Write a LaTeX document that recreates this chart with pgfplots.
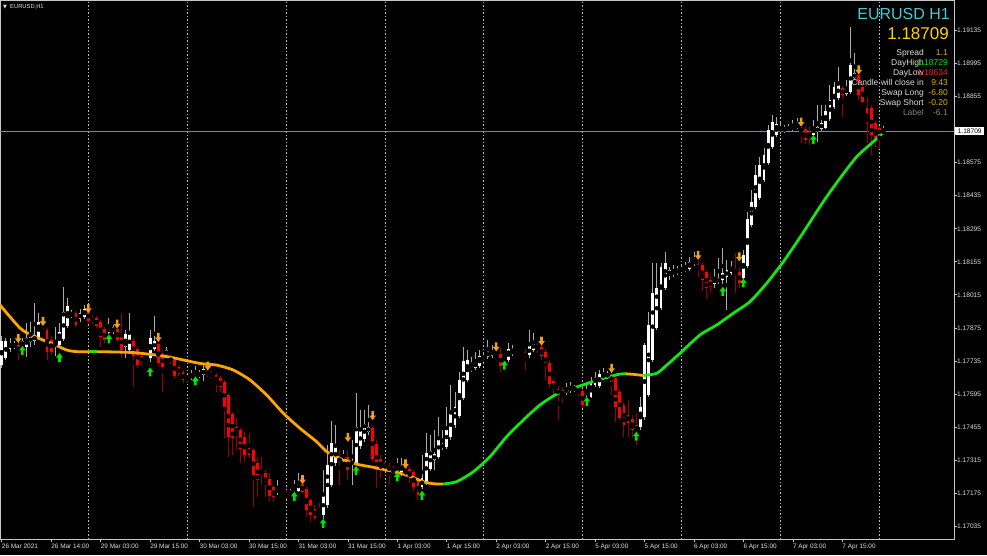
\documentclass[border=0pt]{standalone}
\usepackage{fontspec}
\setmainfont{Liberation Sans}
\newfontfamily\dejavu{DejaVu Sans}
\usepackage{pgfplots}
\usepackage{pgfplotstable}
\pgfplotsset{compat=1.18}

\definecolor{bullwick}{RGB}{170,170,170}
\definecolor{bearwick}{RGB}{150,0,0}
\definecolor{bearbody}{RGB}{255,0,0}
\definecolor{maorange}{RGB}{255,165,0}
\definecolor{magreen}{RGB}{20,230,20}
\definecolor{arrorange}{RGB}{240,160,20}
\definecolor{arrgreen}{RGB}{0,230,0}
\definecolor{axiscol}{RGB}{200,200,200}
\definecolor{sepcol}{RGB}{190,190,190}
\definecolor{pricecol}{RGB}{119,136,153}
\definecolor{labcol}{RGB}{225,225,225}
\definecolor{titlecyan}{RGB}{72,200,210}
\definecolor{pricegold}{RGB}{255,210,0}
\definecolor{valgold}{RGB}{215,180,20}
\definecolor{valdim}{RGB}{170,140,20}
\definecolor{infogray}{RGB}{128,128,128}
\definecolor{infolab}{RGB}{220,220,220}
\definecolor{valgreen}{RGB}{0,230,0}
\definecolor{valred}{RGB}{255,30,30}

% arrow marks
\pgfdeclareplotmark{uparr}{%
  \pgfpathmoveto{\pgfqpoint{-1.3pt}{-4.5pt}}%
  \pgfpathlineto{\pgfqpoint{1.3pt}{-4.5pt}}%
  \pgfpathlineto{\pgfqpoint{1.3pt}{0pt}}%
  \pgfpathlineto{\pgfqpoint{3.3pt}{0pt}}%
  \pgfpathlineto{\pgfqpoint{0pt}{4.5pt}}%
  \pgfpathlineto{\pgfqpoint{-3.3pt}{0pt}}%
  \pgfpathlineto{\pgfqpoint{-1.3pt}{0pt}}%
  \pgfpathclose
  \pgfusepathqfill}
\pgfdeclareplotmark{dnarr}{%
  \pgfpathmoveto{\pgfqpoint{-1.3pt}{4.5pt}}%
  \pgfpathlineto{\pgfqpoint{1.3pt}{4.5pt}}%
  \pgfpathlineto{\pgfqpoint{1.3pt}{0pt}}%
  \pgfpathlineto{\pgfqpoint{3.3pt}{0pt}}%
  \pgfpathlineto{\pgfqpoint{0pt}{-4.5pt}}%
  \pgfpathlineto{\pgfqpoint{-3.3pt}{0pt}}%
  \pgfpathlineto{\pgfqpoint{-1.3pt}{0pt}}%
  \pgfpathclose
  \pgfusepathqfill}

% bullish candles: bar, open, high, low, close
\pgfplotstableread{
j o h l c
3 1.17717 1.17840 1.17705 1.17819
4 1.17747 1.17832 1.17739 1.17819
5 1.17785 1.17832 1.17773 1.17811
6 1.17794 1.17819 1.17785 1.17806
8 1.17798 1.17832 1.17781 1.17819
9 1.17794 1.17895 1.17751 1.17832
10 1.17815 1.17900 1.17794 1.17836
11 1.17819 1.17980 1.17802 1.17845
12 1.17836 1.17938 1.17823 1.17900
16 1.17798 1.17878 1.17756 1.17811
17 1.17802 1.17895 1.17790 1.17857
18 1.17828 1.18048 1.17819 1.17942
19 1.17883 1.18001 1.17874 1.17967
20 1.17925 1.17951 1.17917 1.17938
22 1.17912 1.17955 1.17900 1.17938
23 1.17921 1.17972 1.17912 1.17955
29 1.17853 1.17917 1.17849 1.17878
30 1.17857 1.17887 1.17849 1.17878
33 1.17794 1.17866 1.17747 1.17849
34 1.17781 1.17938 1.17773 1.17853
38 1.17743 1.17751 1.17739 1.17747
39 1.17747 1.17866 1.17730 1.17832
40 1.17785 1.17925 1.17777 1.17819
43 1.17760 1.17794 1.17747 1.17781
49 1.17667 1.17696 1.17654 1.17675
50 1.17667 1.17713 1.17662 1.17684
51 1.17671 1.17696 1.17662 1.17684
52 1.17675 1.17726 1.17650 1.17700
70 1.17179 1.17230 1.17166 1.17192
73 1.17171 1.17192 1.17166 1.17175
74 1.17183 1.17230 1.17179 1.17200
75 1.17183 1.17260 1.17179 1.17226
81 1.17082 1.17272 1.17065 1.17166
82 1.17124 1.17378 1.17111 1.17294
83 1.17209 1.17480 1.17200 1.17387
84 1.17302 1.17463 1.17289 1.17378
86 1.17328 1.17357 1.17306 1.17332
88 1.17323 1.17400 1.17209 1.17336
89 1.17302 1.17599 1.17294 1.17455
90 1.17374 1.17527 1.17361 1.17438
91 1.17404 1.17527 1.17391 1.17467
92 1.17434 1.17548 1.17421 1.17455
99 1.17268 1.17323 1.17264 1.17289
100 1.17264 1.17323 1.17247 1.17294
105 1.17200 1.17336 1.17192 1.17239
106 1.17217 1.17429 1.17209 1.17344
107 1.17277 1.17421 1.17268 1.17353
108 1.17315 1.17442 1.17272 1.17340
109 1.17328 1.17497 1.17319 1.17408
110 1.17366 1.17442 1.17357 1.17383
111 1.17370 1.17539 1.17361 1.17455
112 1.17412 1.17633 1.17400 1.17518
113 1.17463 1.17603 1.17450 1.17539
114 1.17501 1.17688 1.17493 1.17654
115 1.17578 1.17794 1.17569 1.17734
116 1.17654 1.17781 1.17645 1.17739
117 1.17696 1.17751 1.17688 1.17713
118 1.17705 1.17773 1.17696 1.17730
119 1.17713 1.17781 1.17705 1.17756
120 1.17734 1.17773 1.17726 1.17751
121 1.17751 1.17823 1.17743 1.17777
122 1.17756 1.17802 1.17747 1.17781
125 1.17739 1.17751 1.17730 1.17743
126 1.17739 1.17811 1.17730 1.17785
127 1.17764 1.17802 1.17756 1.17781
128 1.17773 1.17785 1.17764 1.17781
131 1.17760 1.17866 1.17747 1.17798
132 1.17781 1.17853 1.17773 1.17811
140 1.17599 1.17641 1.17590 1.17616
141 1.17607 1.17645 1.17599 1.17628
142 1.17611 1.17633 1.17603 1.17624
145 1.17590 1.17633 1.17582 1.17607
146 1.17582 1.17667 1.17578 1.17641
147 1.17633 1.17688 1.17624 1.17667
148 1.17628 1.17696 1.17620 1.17679
149 1.17662 1.17705 1.17654 1.17679
150 1.17667 1.17692 1.17658 1.17684
158 1.17455 1.17582 1.17442 1.17539
159 1.17497 1.17811 1.17484 1.17802
160 1.17590 1.17942 1.17582 1.17887
161 1.17739 1.18150 1.17730 1.18023
162 1.17874 1.18150 1.17866 1.18044
163 1.17959 1.18150 1.17951 1.18133
164 1.18044 1.18196 1.18035 1.18150
165 1.18099 1.18133 1.18078 1.18120
166 1.18107 1.18141 1.18090 1.18116
167 1.18107 1.18137 1.18099 1.18124
168 1.18116 1.18141 1.18107 1.18124
169 1.18116 1.18154 1.18112 1.18133
170 1.18124 1.18175 1.18116 1.18154
171 1.18146 1.18196 1.18137 1.18162
176 1.18061 1.18124 1.18044 1.18086
177 1.18069 1.18171 1.18061 1.18086
178 1.18078 1.18213 1.18061 1.18107
179 1.18090 1.18162 1.17951 1.18120
180 1.18107 1.18158 1.18099 1.18137
183 1.18086 1.18205 1.18078 1.18184
184 1.18137 1.18366 1.18129 1.18336
185 1.18311 1.18459 1.18302 1.18408
186 1.18387 1.18565 1.18379 1.18523
187 1.18425 1.18599 1.18417 1.18565
188 1.18502 1.18637 1.18493 1.18608
189 1.18574 1.18735 1.18565 1.18713
190 1.18641 1.18777 1.18633 1.18747
191 1.18692 1.18769 1.18684 1.18739
192 1.18705 1.18747 1.18696 1.18726
193 1.18709 1.18735 1.18701 1.18722
194 1.18713 1.18739 1.18705 1.18726
195 1.18718 1.18756 1.18709 1.18730
196 1.18726 1.18764 1.18718 1.18735
200 1.18692 1.18756 1.18684 1.18726
201 1.18705 1.18819 1.18663 1.18726
202 1.18718 1.18819 1.18709 1.18743
203 1.18726 1.18819 1.18718 1.18798
204 1.18760 1.18904 1.18752 1.18841
205 1.18811 1.18917 1.18802 1.18896
206 1.18849 1.18981 1.18841 1.18913
208 1.18866 1.18925 1.18858 1.18891
209 1.18875 1.19150 1.18866 1.18989
210 1.18934 1.19040 1.18925 1.18955
217 1.18701 1.18730 1.18697 1.18709
}\bulltab

% bearish candles
\pgfplotstableread{
j o h l c
7 1.17802 1.17815 1.17739 1.17773
13 1.17866 1.17874 1.17849 1.17857
14 1.17866 1.17874 1.17739 1.17773
15 1.17823 1.17840 1.17760 1.17773
21 1.17938 1.17946 1.17878 1.17887
24 1.17951 1.17955 1.17895 1.17904
25 1.17921 1.17929 1.17891 1.17904
26 1.17917 1.17925 1.17874 1.17883
27 1.17900 1.17908 1.17794 1.17836
28 1.17870 1.17878 1.17811 1.17823
31 1.17870 1.17883 1.17815 1.17823
32 1.17849 1.17938 1.17751 1.17781
35 1.17819 1.17832 1.17624 1.17756
36 1.17785 1.17798 1.17705 1.17717
37 1.17756 1.17768 1.17713 1.17730
41 1.17806 1.17811 1.17713 1.17726
42 1.17764 1.17781 1.17603 1.17709
44 1.17751 1.17760 1.17722 1.17730
45 1.17739 1.17747 1.17658 1.17671
46 1.17709 1.17717 1.17671 1.17679
47 1.17688 1.17696 1.17641 1.17654
48 1.17671 1.17679 1.17645 1.17654
53 1.17696 1.17700 1.17667 1.17679
54 1.17684 1.17692 1.17658 1.17667
55 1.17675 1.17684 1.17603 1.17645
56 1.17662 1.17671 1.17603 1.17624
57 1.17645 1.17654 1.17408 1.17535
58 1.17590 1.17599 1.17328 1.17412
59 1.17510 1.17518 1.17336 1.17408
60 1.17455 1.17497 1.17357 1.17429
61 1.17442 1.17450 1.17302 1.17361
62 1.17412 1.17434 1.17306 1.17336
63 1.17370 1.17429 1.17323 1.17336
64 1.17357 1.17366 1.17116 1.17243
65 1.17302 1.17328 1.17158 1.17230
66 1.17264 1.17328 1.17209 1.17251
67 1.17260 1.17272 1.17158 1.17205
68 1.17234 1.17260 1.17137 1.17162
69 1.17200 1.17209 1.17137 1.17158
71 1.17183 1.17192 1.17171 1.17175
72 1.17179 1.17188 1.17150 1.17158
76 1.17213 1.17215 1.17175 1.17179
77 1.17192 1.17200 1.17073 1.17103
78 1.17145 1.17154 1.17052 1.17082
79 1.17107 1.17124 1.17060 1.17069
80 1.17090 1.17133 1.17077 1.17082
85 1.17328 1.17357 1.17209 1.17306
87 1.17328 1.17357 1.17230 1.17272
93 1.17450 1.17463 1.17306 1.17319
94 1.17383 1.17400 1.17196 1.17272
95 1.17319 1.17336 1.17239 1.17281
96 1.17294 1.17306 1.17272 1.17285
97 1.17289 1.17302 1.17209 1.17268
98 1.17277 1.17289 1.17255 1.17260
101 1.17285 1.17287 1.17239 1.17260
102 1.17277 1.17289 1.17217 1.17243
103 1.17264 1.17272 1.17183 1.17200
104 1.17226 1.17234 1.17145 1.17166
123 1.17768 1.17773 1.17751 1.17760
124 1.17764 1.17790 1.17688 1.17713
129 1.17773 1.17781 1.17764 1.17768
130 1.17773 1.17785 1.17696 1.17751
133 1.17798 1.17811 1.17768 1.17785
134 1.17794 1.17802 1.17739 1.17756
135 1.17773 1.17785 1.17654 1.17709
136 1.17726 1.17739 1.17620 1.17637
137 1.17650 1.17658 1.17582 1.17611
138 1.17616 1.17628 1.17484 1.17590
139 1.17611 1.17624 1.17556 1.17594
143 1.17616 1.17624 1.17586 1.17599
144 1.17607 1.17616 1.17535 1.17548
151 1.17679 1.17688 1.17590 1.17645
152 1.17662 1.17671 1.17476 1.17539
153 1.17603 1.17616 1.17484 1.17493
154 1.17548 1.17556 1.17412 1.17463
155 1.17506 1.17569 1.17412 1.17472
156 1.17489 1.17506 1.17408 1.17442
157 1.17463 1.17514 1.17378 1.17442
172 1.18146 1.18162 1.18090 1.18124
173 1.18141 1.18154 1.18031 1.18078
174 1.18112 1.18120 1.17997 1.18044
175 1.18078 1.18095 1.18023 1.18048
181 1.18124 1.18192 1.18023 1.18107
182 1.18112 1.18129 1.18044 1.18065
197 1.18722 1.18726 1.18658 1.18705
198 1.18718 1.18726 1.18654 1.18671
199 1.18696 1.18726 1.18650 1.18684
207 1.18891 1.18900 1.18769 1.18862
211 1.18947 1.18951 1.18841 1.18862
212 1.18896 1.18908 1.18828 1.18832
213 1.18807 1.18853 1.18658 1.18743
214 1.18807 1.18819 1.18608 1.18692
215 1.18743 1.18756 1.18641 1.18680
216 1.18722 1.18730 1.18633 1.18692
}\beartab

% signal arrows
\pgfplotstableread{
j p
7 1.17830
13 1.17902
24 1.17957
31 1.17891
41 1.17834
53 1.17713
76 1.17232
87 1.17411
93 1.17503
101 1.17298
123 1.17794
134 1.17819
151 1.17703
172 1.18182
182 1.18176
197 1.18747
211 1.18968
}\dntab
\pgfplotstableread{
j p
8 1.17779
17 1.17749
29 1.17828
39 1.17688
50 1.17650
74 1.17161
81 1.17046
89 1.17270
99 1.17243
105 1.17165
125 1.17717
145 1.17563
157 1.17416
178 1.18030
183 1.18065
200 1.18673
}\uptab

\begin{document}
\begin{tikzpicture}
\fill[black] (0pt,-16pt) rectangle (987pt,539pt);
\useasboundingbox (0pt,-16pt) rectangle (987pt,539pt);
\begin{axis}[
  at={(0pt,0pt)}, anchor=south west,
  scale only axis, width=954pt, height=539pt,
  xmin=2.568, xmax=234.12,
  ymin=1.169799, ymax=1.192645,
  axis line style={axiscol, line width=0.8pt},
  tick align=outside,
  major tick length=3pt,
  tick style={axiscol, line width=0.6pt},
  xtick pos=bottom,
  ytick pos=right,
  yticklabel pos=right,
  xtick={3,15,...,207},
  xticklabels={26 Mar 2021,26 Mar 14:00,29 Mar 03:00,29 Mar 15:00,30 Mar 03:00,30 Mar 15:00,31 Mar 03:00,31 Mar 15:00,1 Apr 03:00,1 Apr 15:00,2 Apr 03:00,2 Apr 15:00,5 Apr 03:00,5 Apr 15:00,6 Apr 03:00,6 Apr 15:00,7 Apr 03:00,7 Apr 15:00},
  xticklabel style={anchor=north west, inner sep=0pt, yshift=-2pt, font=\fontsize{6.4}{7}\selectfont, text=labcol},
  ytick={1.17035,1.17175,1.17315,1.17455,1.17595,1.17735,1.17875,1.18015,1.18155,1.18295,1.18435,1.18575,1.18855,1.18995,1.19135},
  yticklabels={1.17035,1.17175,1.17315,1.17455,1.17595,1.17735,1.17875,1.18015,1.18155,1.18295,1.18435,1.18575,1.18855,1.18995,1.19135},
  yticklabel style={anchor=west, inner sep=0pt, font=\fontsize{6.6}{7}\selectfont, text=labcol},
  extra x ticks={24,48,...,216},
  extra x tick labels={},
  extra x tick style={grid=major, major tick length=0pt,
    major grid style={sepcol, line width=0.7pt, dash pattern=on 1.5pt off 2pt}},
]
% current price line
\addplot[pricecol, line width=0.6pt, forget plot] coordinates {(2.568,1.18709) (234.12,1.18709)};

% wicks
\addplot[only marks, mark=none, forget plot,
  error bars/.cd, y dir=both, y explicit, error mark=none,
  error bar style={draw=bullwick, line width=0.9pt}]
  table[x=j, y expr={(\thisrow{h}+\thisrow{l})/2}, y error expr={(\thisrow{h}-\thisrow{l})/2}] {\bulltab};
\addplot[only marks, mark=none, forget plot,
  error bars/.cd, y dir=both, y explicit, error mark=none,
  error bar style={draw=bearwick, line width=0.9pt}]
  table[x=j, y expr={(\thisrow{h}+\thisrow{l})/2}, y error expr={(\thisrow{h}-\thisrow{l})/2}] {\beartab};
% bodies
\addplot[only marks, mark=none, forget plot,
  error bars/.cd, y dir=both, y explicit, error mark=none,
  error bar style={draw=white, line width=2.8pt}]
  table[x=j, y expr={(\thisrow{o}+\thisrow{c})/2}, y error expr={(\thisrow{c}-\thisrow{o})/2}] {\bulltab};
\addplot[only marks, mark=none, forget plot,
  error bars/.cd, y dir=both, y explicit, error mark=none,
  error bar style={draw=bearbody, line width=2.8pt}]
  table[x=j, y expr={(\thisrow{o}+\thisrow{c})/2}, y error expr={(\thisrow{o}-\thisrow{c})/2}] {\beartab};

% moving average, coloured by direction
\addplot[maorange, line width=2.8pt, line cap=butt, line join=round, smooth, tension=0.4] coordinates {
(2.568,1.17972) (7.42,1.17874) (10.65,1.17840) (14.70,1.17812) (18.76,1.17781) (21.18,1.17774) (24.41,1.17774)};
\addplot[magreen, line width=2.8pt, line cap=butt] coordinates {(24.41,1.17774) (26.11,1.17774)};
\addplot[maorange, line width=2.8pt, line cap=butt, line join=round, smooth, tension=0.4] coordinates {
(26.11,1.17774) (34.92,1.17770) (43.03,1.17753) (51.11,1.17724) (55.17,1.17717) (59.2,1.17696) (63.25,1.17654) (67.30,1.17590) (71.33,1.17513) (75.38,1.17449) (79.44,1.17392) (81.87,1.17350) (85.09,1.17322) (89.15,1.17297) (93.17,1.17284) (97.22,1.17269) (101.28,1.17251) (105.31,1.17223) (107.74,1.17214) (110.17,1.17213)};
\addplot[magreen, line width=2.8pt, line cap=butt, line join=round, smooth, tension=0.4] coordinates {
(110.17,1.17213) (113.41,1.17223) (117.45,1.17265) (121.5,1.17329) (125.56,1.17414) (129.58,1.17484) (133.63,1.17548) (137.68,1.17594) (141.72,1.17619) (145.77,1.17643) (149.82,1.17665) (153.05,1.17679) (154.5,1.17680)};
\addplot[maorange, line width=2.8pt, line cap=butt, line join=round] coordinates {
(154.5,1.17680) (156.2,1.17678) (158.8,1.17673)};
\addplot[magreen, line width=2.8pt, line cap=butt, line join=round, smooth, tension=0.4] coordinates {
(158.8,1.17673) (161.96,1.17682) (164.39,1.17717) (167.62,1.17767) (172.47,1.17845) (176.52,1.17887) (180.56,1.17937) (184.61,1.17986) (188.66,1.18064) (192.69,1.18155) (196.74,1.18258) (202.41,1.18410) (206.45,1.18509) (210.5,1.18600) (214.53,1.18664) (217.13,1.18706)};

% arrows
\addplot[only marks, mark=dnarr, color=arrorange] table[x=j, y=p] {\dntab};
\addplot[only marks, mark=uparr, color=arrgreen] table[x=j, y=p] {\uptab};
\end{axis}

% current price box on the scale
\node[fill=white, text=black, anchor=west, inner sep=0pt, minimum width=29pt, minimum height=8.5pt,
  font=\fontsize{6.6}{7}\selectfont] at (955pt,408pt) {1.18709};

% chart caption
\node[inner sep=0pt, text=labcol, font=\dejavu\fontsize{5}{6}\selectfont] at (5pt,532pt) {▼};
\node[anchor=west, inner sep=0pt, text=labcol, font=\fontsize{5.8}{7}\selectfont] at (10pt,532pt) {EURUSD,H1};

% info panel
\node[anchor=east, inner sep=0pt, text=titlecyan, font=\fontsize{16}{18}\selectfont] at (950pt,525pt) {EURUSD H1};
\node[anchor=east, inner sep=0pt, text=pricegold, font=\fontsize{17}{19}\selectfont] at (949pt,505.5pt) {1.18709};
\begin{scope}[every node/.style={anchor=base east, inner sep=0pt, font=\fontsize{8.5}{10}\selectfont}]
\node[text=infolab] at (924pt,483pt) {Spread};
\node[text=valgold] at (948pt,483pt) {1.1};
\node[text=infolab] at (924pt,473pt) {DayHigh};
\node[text=valgreen] at (948pt,473pt) {1.18729};
\node[text=infolab] at (924pt,463pt) {DayLow};
\node[text=valred] at (948pt,463pt) {1.18634};
\node[text=infolab] at (924pt,453pt) {Candle will close in};
\node[text=valgold] at (948pt,453pt) {9:43};
\node[text=infolab] at (924pt,443pt) {Swap Long};
\node[text=valgold] at (948pt,443pt) {-6.80};
\node[text=infolab] at (924pt,433pt) {Swap Short};
\node[text=valgold] at (948pt,433pt) {-0.20};
\node[text=infogray] at (924pt,423pt) {Label};
\node[text=valdim] at (948pt,423pt) {-6.1};
\end{scope}
\end{tikzpicture}
\end{document}
